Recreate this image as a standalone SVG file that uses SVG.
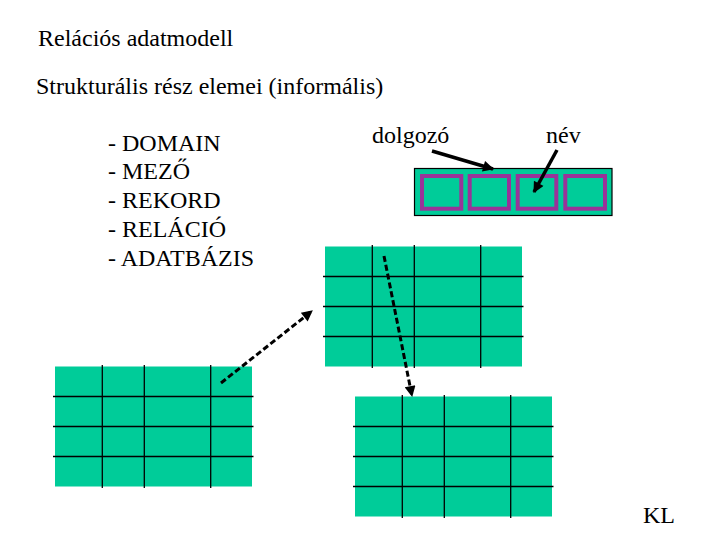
<svg xmlns="http://www.w3.org/2000/svg" width="720" height="540" viewBox="0 0 720 540">
<style>
text{font-size:24px;fill:#000}
.tbl{fill:#00CC99}
.grid{stroke:#000;stroke-width:1.3;fill:none}
.cell{fill:none;stroke:#993399;stroke-width:4}
.solid{stroke:#000;stroke-width:3.5;fill:none}
.dash{stroke:#000;stroke-width:3;fill:none;stroke-dasharray:6 3}
</style>
<defs>
<marker id="ah" viewBox="0 0 10 10" refX="9" refY="5" markerWidth="13" markerHeight="11" markerUnits="userSpaceOnUse" orient="auto">
<path d="M0,0 L10,5 L0,10 z" fill="#000"/>
</marker>
<g id="tablegrid">
<rect class="tbl" x="0" y="0" width="197" height="120"/>
<path class="grid" d="M47.3,-1.5V121.5M89.3,-1.5V121.5M155.7,-1.5V121.5M-2,30H198.5M-2,60H198.5M-2,90H198.5"/>
</g>
</defs>
<rect width="720" height="540" fill="#fff"/>
<g font-family="Liberation Serif, Tinos, Times New Roman, DejaVu Serif, serif">
<g id="title"><text x="38" y="46">Relációs adatmodell</text></g>
<g id="subtitle"><text x="36" y="94">Strukturális rész elemei (informális)</text></g>
<g id="list">
<text x="108" y="151">- DOMAIN</text>
<text x="108" y="179">- MEZŐ</text>
<text x="108" y="208">- REKORD</text>
<text x="108" y="237">- RELÁCIÓ</text>
<text x="108" y="266">- ADATBÁZIS</text>
</g>
<g id="label-dolgozo"><text x="372" y="143">dolgozó</text></g>
<g id="label-nev"><text x="546" y="143">név</text></g>
<g id="signature"><text x="643" y="523">KL</text></g>
</g>
<g id="record">
<rect x="414.5" y="168.5" width="197.5" height="47" fill="#00CC99" stroke="#000" stroke-width="1.2"/>
<rect class="cell" x="422" y="176" width="39.3" height="32.7"/>
<rect class="cell" x="469.7" y="176" width="39.3" height="32.7"/>
<rect class="cell" x="517.7" y="176" width="38.6" height="32.7"/>
<rect class="cell" x="565.3" y="176" width="39.7" height="32.7"/>
</g>
<g id="table-top"><use href="#tablegrid" x="325" y="246.5"/></g>
<g id="table-left"><use href="#tablegrid" x="55" y="366.5"/></g>
<g id="table-bottom"><use href="#tablegrid" x="355" y="396.5"/></g>
<g id="connectors">
<line class="solid" x1="432" y1="151" x2="493" y2="169" marker-end="url(#ah)"/>
<line class="solid" x1="557" y1="150" x2="534" y2="192" marker-end="url(#ah)"/>
<line class="dash" x1="384" y1="256" x2="412" y2="396" marker-end="url(#ah)"/>
<line class="dash" x1="221" y1="383" x2="312" y2="311" marker-end="url(#ah)"/>
</g>
</svg>
